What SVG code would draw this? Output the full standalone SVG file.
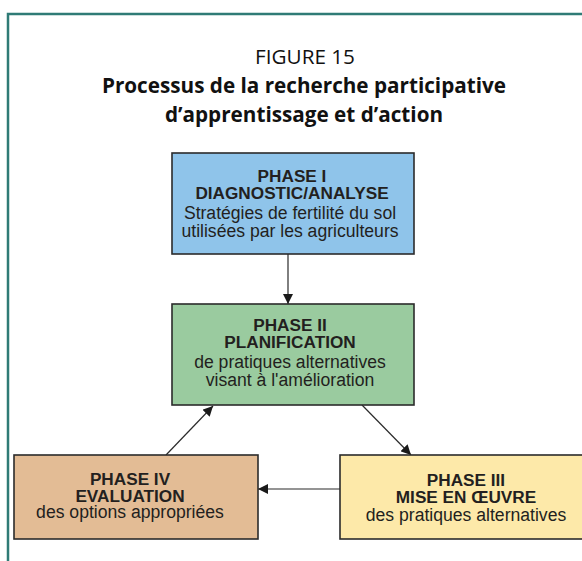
<svg xmlns="http://www.w3.org/2000/svg" width="582" height="561" viewBox="0 0 582 561">
<style>
.frame{fill:none;stroke:#2f7b76;stroke-width:2.5}
.box{stroke:#2b2b2b;stroke-width:1.6}
.t{font-family:"Liberation Sans",Arial,sans-serif;font-size:17.6px;fill:#231f20;text-anchor:middle}
.b{font-weight:bold;font-size:17.2px}
.h{font-family:"Open Sans","Noto Sans",sans-serif;fill:#111;text-anchor:middle}
.c{stroke:#2b2b2b;stroke-width:1.2;fill:none;marker-end:url(#ah)}
</style>
<defs>
<marker id="ah" viewBox="0 0 10 10" refX="10" refY="5" markerWidth="10" markerHeight="10" markerUnits="userSpaceOnUse" orient="auto">
<path d="M0,0 L10,5 L0,10 z" fill="#1a1a1a"/>
</marker>
</defs>
<rect width="582" height="561" fill="#ffffff"/>
<rect class="frame" x="8" y="14" width="600" height="600"/>
<g id="title">
<text class="h" x="305" y="64" font-size="20.7">FIGURE 15</text>
<text class="h" x="304" y="93" font-size="20.7" font-weight="bold">Processus de la recherche participative</text>
<text class="h" x="304" y="122" font-size="20.7" font-weight="bold">d’apprentissage et d’action</text>
</g>
<g id="connectors">
<line class="c" x1="288" y1="254" x2="288" y2="304"/>
<line class="c" x1="362" y1="405" x2="411" y2="455"/>
<line class="c" x1="340" y1="489" x2="258" y2="489"/>
<line class="c" x1="166" y1="455" x2="213" y2="406"/>
</g>
<g id="phase1">
<rect class="box" x="172" y="153" width="242" height="101" fill="#8fc4ea"/>
<text class="t b" x="292" y="182">PHASE I</text>
<text class="t b" x="292" y="198.5">DIAGNOSTIC/ANALYSE</text>
<text class="t" x="290" y="219">Stratégies de fertilité du sol</text>
<text class="t" x="290" y="237">utilisées par les agriculteurs</text>
</g>
<g id="phase2">
<rect class="box" x="172" y="304" width="242" height="101" fill="#9acb9f"/>
<text class="t b" x="290" y="331">PHASE II</text>
<text class="t b" x="290" y="347.5">PLANIFICATION</text>
<text class="t" x="290" y="368">de pratiques alternatives</text>
<text class="t" x="290" y="386">visant à l'amélioration</text>
</g>
<g id="phase3">
<rect class="box" x="340" y="455" width="250" height="84" fill="#fde9a9"/>
<text class="t b" x="466" y="486">PHASE III</text>
<text class="t b" x="466" y="502.5">MISE EN ŒUVRE</text>
<text class="t" x="466" y="521">des pratiques alternatives</text>
</g>
<g id="phase4">
<rect class="box" x="14" y="455" width="244" height="84" fill="#e3bc95"/>
<text class="t b" x="130" y="485">PHASE IV</text>
<text class="t b" x="130" y="501.5">EVALUATION</text>
<text class="t" x="130" y="518">des options appropriées</text>
</g>
</svg>
